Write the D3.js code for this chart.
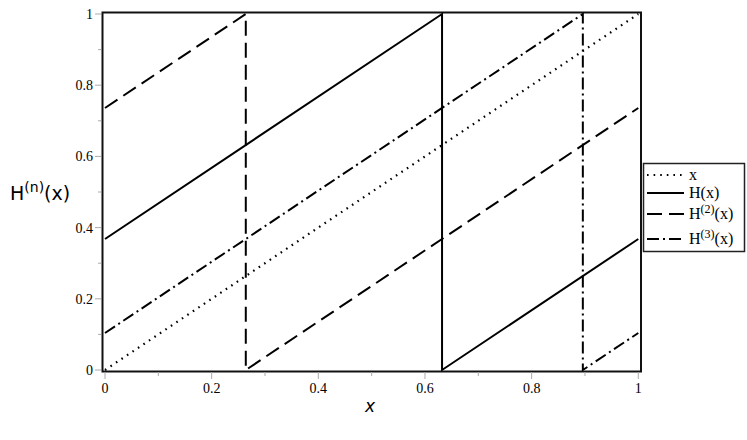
<!DOCTYPE html>
<html><head><meta charset="utf-8">
<script src="https://cdn.jsdelivr.net/npm/d3@7"></script>
<style>body{margin:0;background:#fff} .serif{font-family:"Liberation Serif","Times New Roman",serif}</style>
</head><body>
<svg id="c" width="747" height="440"></svg>
<script>
// Data
const seriesNames = ["x", "H(x)", "H(2)(x)", "H(3)(x)"];
const lineX  = [[0, 0], [1, 1]];
const lineH1 = [[0, 0.368], [0.632, 1], [0.632, 0], [1, 0.368]];
const lineH2 = [[0, 0.736], [0.264, 1], [0.264, 0], [1, 0.736]];
const lineH3 = [[0, 0.104], [0.896, 1], [0.896, 0], [1, 0.104]];
const xTicks = [0, 0.2, 0.4, 0.6, 0.8, 1];
const yTicks = [0, 0.2, 0.4, 0.6, 0.8, 1];
const minorTicks = [0.1, 0.3, 0.5, 0.7, 0.9];

const svg = d3.select("#c");
const x = d3.scaleLinear().domain([0, 1]).range([105, 638.3]);
const y = d3.scaleLinear().domain([0, 1]).range([370, 14]);

// frame
svg.append("rect").attr("x", 102.5).attr("y", 12.5).attr("width", 538.5).attr("height", 359)
  .attr("fill", "none").attr("stroke", "#111").attr("stroke-width", 2);

// ticks
const tickColor = "#aaa";
xTicks.concat(minorTicks).forEach(t => {
  svg.append("line").attr("x1", x(t)).attr("x2", x(t)).attr("y1", 372).attr("y2", xTicks.includes(t) ? 379 : 376)
    .attr("stroke", tickColor).attr("stroke-width", 1);
});
yTicks.concat(minorTicks).forEach(t => {
  svg.append("line").attr("y1", y(t)).attr("y2", y(t)).attr("x1", 101).attr("x2", yTicks.includes(t) ? 95 : 98)
    .attr("stroke", tickColor).attr("stroke-width", 1);
});
const fmt = d => String(d);
svg.selectAll(".xt").data(xTicks).enter().append("text").attr("class", "serif")
  .attr("x", d => x(d)).attr("y", 393).attr("text-anchor", "middle")
  .attr("font-size", 14).text(fmt);
svg.selectAll(".yt").data(yTicks).enter().append("text").attr("class", "serif")
  .attr("x", 93).attr("y", d => y(d) + 5).attr("text-anchor", "end")
  .attr("font-size", 14).text(fmt);

// axis titles
svg.append("text").attr("x", 370).attr("y", 412).attr("text-anchor", "middle")
  .attr("font-family", "DejaVu Sans").attr("font-style", "italic").attr("font-size", 17).text("x");
const yt = svg.append("text").attr("x", 10).attr("y", 200)
  .attr("font-family", "DejaVu Sans").attr("font-size", 19);
yt.append("tspan").text("H");
yt.append("tspan").attr("dy", -8).attr("font-size", 14).text("(n)");
yt.append("tspan").attr("dy", 8).text("(x)");

// lines
const dashes = ["1.6,5", null, "15,7", "12,4,2,4"];
const lines = [lineX, lineH1, lineH2, lineH3];
const gen = d3.line().x(d => x(d[0])).y(d => y(d[1]));
lines.forEach((ln, i) => {
  svg.append("path").attr("d", gen(ln)).attr("fill", "none").attr("stroke", "#000")
    .attr("stroke-width", i === 0 ? 2.2 : 2).attr("stroke-dasharray", dashes[i]);
});

// legend
svg.append("rect").attr("x", 643.5).attr("y", 163.5).attr("width", 101).attr("height", 88)
  .attr("fill", "#fff").attr("stroke", "#222").attr("stroke-width", 1.5);
const ly = [175, 193, 214, 239];
seriesNames.forEach((n, i) => {
  svg.append("line").attr("x1", 647).attr("x2", 684).attr("y1", ly[i]).attr("y2", ly[i])
    .attr("stroke", "#000").attr("stroke-width", 2).attr("stroke-dasharray", dashes[i]);
  const t = svg.append("text").attr("class", "serif").attr("x", 689).attr("y", ly[i] + 5)
    .attr("font-size", 16);
  if (i < 2) t.text(n);
  else {
    t.append("tspan").text("H");
    t.append("tspan").attr("dy", -6).attr("font-size", 12).text(i === 2 ? "(2)" : "(3)");
    t.append("tspan").attr("dy", 6).text("(x)");
  }
});
</script>
</body></html>
